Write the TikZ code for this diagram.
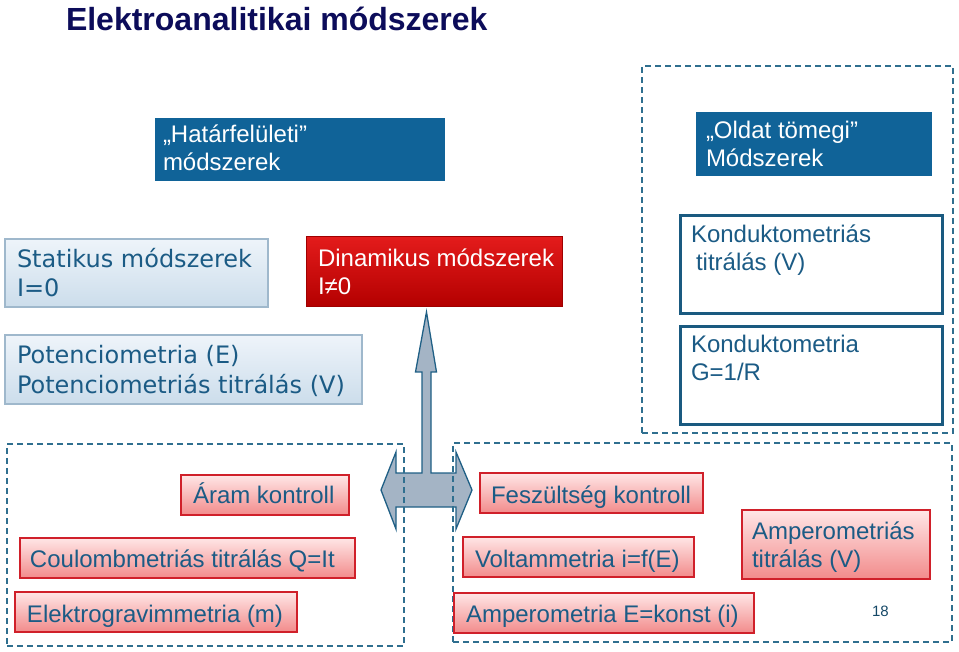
\documentclass[tikz,border=0pt]{standalone}
\usepackage{fontspec}
\setmainfont{Liberation Sans}
\newfontfamily\verdanafont{DejaVu Sans}
\definecolor{hdrblue}{HTML}{106398}
\definecolor{txtblue}{HTML}{1B5B85}
\definecolor{navy}{HTML}{0C0C5A}
\definecolor{dashcol}{HTML}{2F6F8F}
\definecolor{kborder}{HTML}{1A5A80}
\definecolor{lbtop}{HTML}{EEF4FA}
\definecolor{lbbot}{HTML}{CCDDEB}
\definecolor{lbborder}{HTML}{9FB8CC}
\definecolor{redtop}{HTML}{E31B1B}
\definecolor{redbot}{HTML}{B30000}
\definecolor{redborder}{HTML}{A00000}
\definecolor{pinktop}{HTML}{FFE6E6}
\definecolor{pinkbot}{HTML}{F28B8B}
\definecolor{pinkborder}{HTML}{D0202A}
\definecolor{arrowfill}{HTML}{A4B4C5}
\definecolor{arrowborder}{HTML}{1F5F85}
\newcommand\mkbox[6]{%
  \pgfmathsetmacro\mkbw{#5-#3}%
  \pgfmathsetmacro\mkbh{#6-#4}%
  \pgfmathsetmacro\mkbx{(#3+#5)/2}%
  \pgfmathsetmacro\mkby{(#4+#6)/2}%
  \node[basebox, #1, minimum width=\mkbw pt, minimum height=\mkbh pt] (#2) at (\mkbx,\mkby) {};}
\begin{document}
\begin{tikzpicture}[x=1pt,y=-1pt,
  basebox/.style={rectangle, inner sep=0pt, outer sep=0pt},
  bluehead/.style={fill=hdrblue},
  lightbox/.style={top color=lbtop, bottom color=lbbot, draw=lbborder, line width=1.2pt},
  redbox/.style={top color=redtop, bottom color=redbot, draw=redborder, line width=1pt},
  pinkbox/.style={top color=pinktop, bottom color=pinkbot, draw=pinkborder, line width=1.5pt},
  kbox/.style={fill=white, draw=kborder, line width=3pt},
  dashbox/.style={draw=dashcol, line width=1.3pt, dash pattern=on 6pt off 4pt},
  txt/.style={anchor=base west, inner sep=0pt, outer sep=0pt, align=left, text=txtblue, font=\fontsize{24}{28}\selectfont},
  vtxt/.style={txt, font=\verdanafont\fontsize{24}{29.5}\selectfont},
  wtxt/.style={txt, text=white},
  arrowshape/.style={fill=arrowfill, draw=arrowborder, line width=1.3pt, line join=miter}
]
\useasboundingbox (0,0) rectangle (959,652);
% title
\node[txt, text=navy, font=\bfseries\fontsize{32}{36}\selectfont] (title) at (66,31) {Elektroanalitikai módszerek};
% header boxes (multi-line texts are placed by the baseline of their last line)
\mkbox{bluehead}{hatar}{155}{118}{445}{181}
\node[wtxt] (hatar-t) at (163,171) {„Határfelületi”\\módszerek};
\mkbox{bluehead}{oldat}{696}{112}{932}{176}
\node[wtxt] (oldat-t) at (706,167) {„Oldat tömegi”\\Módszerek};
% left upper
\mkbox{lightbox}{stat}{5}{239}{268}{307}
\node[vtxt] (stat-t) at (17,297) {Statikus módszerek\\I=0};
\mkbox{lightbox}{poten}{5}{335}{362}{404}
\node[vtxt] (poten-t) at (17,393) {Potenciometria (E)\\Potenciometriás titrálás (V)};
\mkbox{redbox}{dinam}{306}{237}{562}{307}
\node[wtxt] (dinam-t) at (318,295) {Dinamikus módszerek\\I≠0};
% right conductometry
\mkbox{kbox}{kondtit}{680}{216}{942}{314}
\node[txt] (kondtit-t) at (691,271) {Konduktometriás\\\hspace*{5pt}titrálás (V)};
\mkbox{kbox}{kond}{680}{327}{942}{424}
\node[txt] (kond-t) at (691,381) {Konduktometria\\G=1/R};
% arrow
\draw[arrowshape] (381,490) -- (396,452) -- (396,473) -- (422,473) -- (422,372) -- (415.5,372)
  -- (426.5,312) -- (436.5,372) -- (431,372) -- (431,473) -- (456,473) -- (456,452)
  -- (472,490) -- (456,529) -- (456,507) -- (396,507) -- (396,529) -- cycle;
% dashed groups
\mkbox{dashbox}{oldatgrp}{642}{66}{953}{433}
\mkbox{dashbox}{aramgrp}{7}{444}{404}{646}
\mkbox{dashbox}{feszgrp}{453}{443}{952}{642}
% current control
\mkbox{pinkbox}{aram}{181}{475}{349}{515}
\node[txt] (aram-t) at (193,503) {Áram kontroll};
\mkbox{pinkbox}{coul}{20}{538}{355}{578}
\node[txt] (coul-t) at (30,567) {Coulombmetriás titrálás Q=It};
\mkbox{pinkbox}{elgrav}{15}{592}{297}{632}
\node[txt] (elgrav-t) at (27,622) {Elektrogravimmetria (m)};
% voltage control
\mkbox{pinkbox}{fesz}{480}{473}{703}{513}
\node[txt] (fesz-t) at (491,503) {Feszültség kontroll};
\mkbox{pinkbox}{volt}{463}{537}{694}{577}
\node[txt] (volt-t) at (475,567) {Voltammetria i=f(E)};
\mkbox{pinkbox}{ampk}{454}{593}{754}{633}
\node[txt] (ampk-t) at (466,622.5) {Amperometria E=konst (i)};
\mkbox{pinkbox}{amptit}{742}{510}{930}{579}
\node[txt] (amptit-t) at (752,567) {Amperometriás\\titrálás (V)};
% page number
\node[txt, text=kborder!80!black, font=\fontsize{15}{18}\selectfont] (pnum) at (872,616) {18};
\end{tikzpicture}
\end{document}
